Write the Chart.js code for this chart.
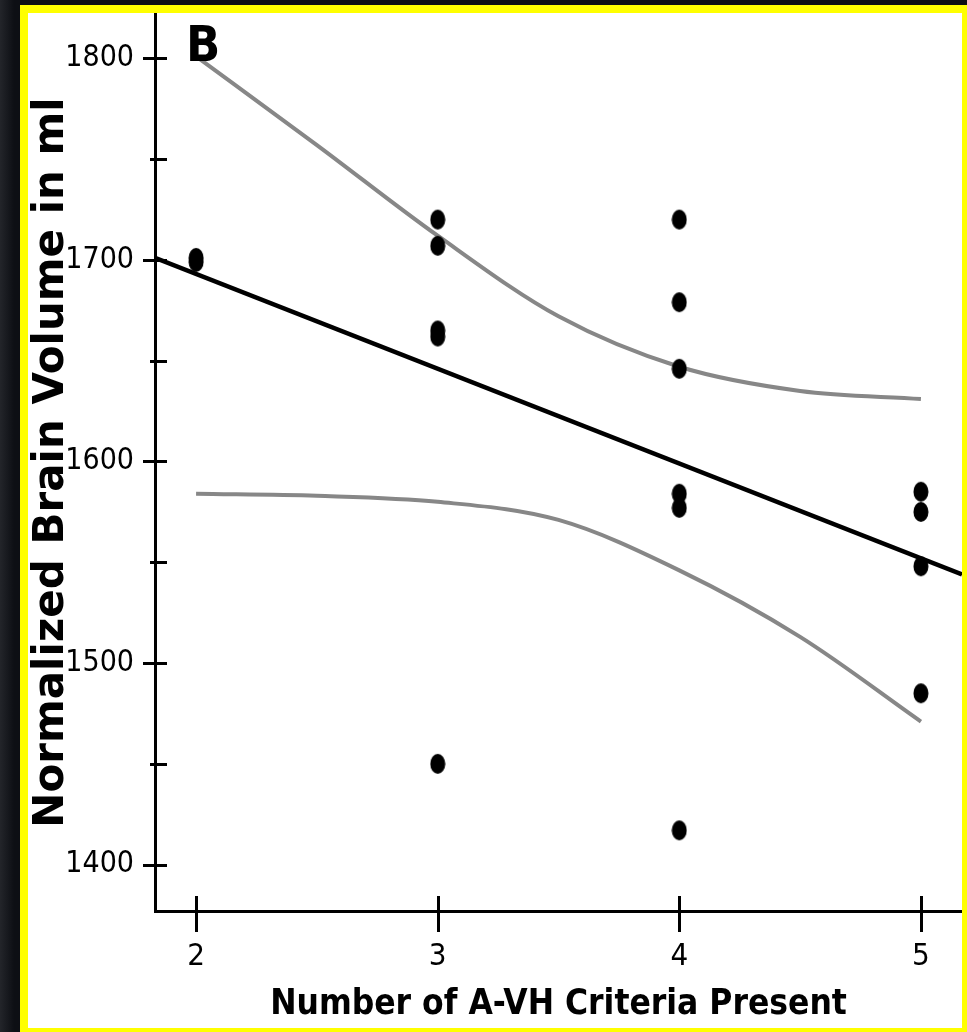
<!DOCTYPE html>
<html>
<head>
<meta charset="utf-8">
<script src="https://cdn.jsdelivr.net/npm/chart.js@4/dist/chart.umd.min.js"></script>
<style>
    html, body { margin: 0; padding: 0; }
    body {
        width: 967px; height: 1032px; overflow: hidden;
        background: linear-gradient(90deg, #23252a 0px, #0d0f14 14px, #0d0f14 100%);
        position: relative;
    }
    #frame {
        position: absolute; left: 20px; top: 5px;
        width: 934px; height: 1015px;
        border: 8px solid #ffff00; border-right-width: 5px; border-bottom-width: 4px;
        background: #fff;
    }
    #chart { position: absolute; left: 0; top: 0; }
    #panel {
        position: absolute; left: 158px; top: 6px;
        font: bold 50px "Liberation Sans Narrow", "DejaVu Sans Condensed", sans-serif;
        line-height: 1; color: #000;
    }
</style>
</head>
<body>
<div id="frame">
    <canvas id="chart" width="934" height="1015"></canvas>
    <div id="panel">B</div>
</div>
<script>
// individual subjects
const criteria = [2, 2, 3, 3, 3, 3, 3, 4, 4, 4, 4, 4, 4, 5, 5, 5, 5];
const brainVolume = [1701, 1699, 1720, 1707, 1665, 1662, 1450, 1720, 1679, 1646, 1584, 1577, 1417, 1585, 1575, 1548, 1485];

// regression line, read at both ends of the x axis
const fitX = [1.83, 5.17];
const fitY = [1701, 1544];

// confidence band
const bandX = [2, 2.5, 3, 3.5, 4, 4.5, 5];
const upperBand = [1801, 1757, 1712, 1672, 1647, 1635, 1631];
const lowerBand = [1584, 1583, 1580, 1571, 1546, 1513, 1471];

const xTicks = [2, 3, 4, 5];
const yLabels = [1400, 1500, 1600, 1700, 1800];

const narrow = "'Liberation Sans Narrow', 'DejaVu Sans Condensed', sans-serif";

function pairs(xs, ys) {
    return xs.map((x, i) => ({x: x, y: ys[i]}));
}

// slightly tall dots like the original
const dot = document.createElement("canvas");
dot.width = 16; dot.height = 22;
(function() {
    const c = dot.getContext("2d");
    c.fillStyle = "#000";
    c.beginPath();
    c.ellipse(8, 11, 7.5, 10, 0, 0, Math.PI * 2);
    c.fill();
})();

// tick marks crossing the axis lines
const crossTicks = {
    id: "crossTicks",
    afterDraw(chart) {
        const ctx = chart.ctx;
        const xs = chart.scales.x, ys = chart.scales.y;
        const ax = ys.right;
        const ay = xs.top;
        ctx.save();
        ctx.strokeStyle = "#000";
        ctx.lineWidth = 3;
        ys.ticks.forEach(t => {
            const py = Math.round(ys.getPixelForValue(t.value)) + 0.5;
            const major = yLabels.includes(t.value);
            ctx.beginPath();
            ctx.moveTo(ax - (major ? 12 : 5), py);
            ctx.lineTo(ax + 12, py);
            ctx.stroke();
        });
        xs.ticks.forEach(t => {
            const px = Math.round(xs.getPixelForValue(t.value)) + 0.5;
            ctx.beginPath();
            ctx.moveTo(px, ay - 15);
            ctx.lineTo(px, ay + 21);
            ctx.stroke();
        });
        ctx.restore();
    }
};

new Chart(document.getElementById("chart").getContext("2d"), {
    type: "scatter",
    data: {
        datasets: [
            {
                label: "Subjects",
                data: pairs(criteria, brainVolume),
                pointStyle: dot,
                pointRadius: 8,
            },
            {
                label: "Regression",
                type: "line",
                data: pairs(fitX, fitY),
                borderColor: "#000",
                borderWidth: 4.5,
                pointRadius: 0,
                fill: false,
            },
            {
                label: "Upper 95% CI",
                type: "line",
                data: pairs(bandX, upperBand),
                borderColor: "#878787",
                borderWidth: 4,
                pointRadius: 0,
                cubicInterpolationMode: "monotone",
                fill: false,
            },
            {
                label: "Lower 95% CI",
                type: "line",
                data: pairs(bandX, lowerBand),
                borderColor: "#878787",
                borderWidth: 4,
                pointRadius: 0,
                cubicInterpolationMode: "monotone",
                fill: false,
            },
        ]
    },
    options: {
        responsive: false,
        animation: false,
        events: [],
        layout: {autoPadding: false, padding: {top: 1, left: 0, right: 0, bottom: 0}},
        plugins: {legend: {display: false}, tooltip: {enabled: false}},
        scales: {
            x: {
                type: "linear",
                min: 1.83,
                max: 5.17,
                afterFit: s => {
                    s.height = 117;
                    s.paddingLeft = 0; s.paddingRight = 0;
                },
                afterBuildTicks: s => { s.ticks = xTicks.map(v => ({value: v})); },
                grid: {display: false},
                border: {display: true, color: "#000", width: 3},
                ticks: {
                    color: "#000",
                    padding: 19,
                    font: {family: narrow, size: 31},
                },
                title: {
                    display: true,
                    text: "Number of A-VH Criteria Present",
                    color: "#000",
                    font: {family: narrow, size: 35, weight: "bold", lineHeight: 1},
                    padding: {top: 0, bottom: 6},
                },
            },
            y: {
                min: 1377,
                max: 1822,
                afterFit: s => {
                    s.width = 127;
                    s.paddingTop = 0; s.paddingBottom = 0;
                },
                grid: {display: false},
                border: {display: true, color: "#000", width: 3},
                ticks: {
                    stepSize: 50,
                    includeBounds: false,
                    autoSkip: false,
                    color: "#000",
                    padding: 13,
                    font: {family: narrow, size: 30},
                    callback: v => yLabels.includes(v) ? String(v) : "",
                },
                title: {
                    display: true,
                    text: "Normalized Brain Volume in ml",
                    color: "#000",
                    font: {family: "'DejaVu Sans', sans-serif", size: 42, weight: "bold", lineHeight: 1},
                    padding: {top: 3, bottom: 0},
                },
            },
        },
    },
    plugins: [crossTicks],
});
</script>
</body>
</html>
